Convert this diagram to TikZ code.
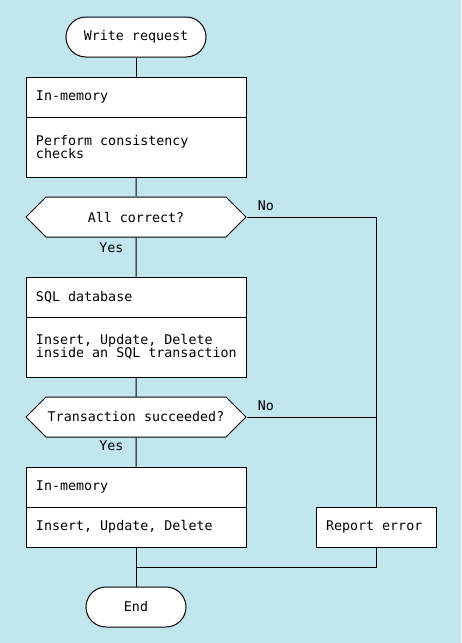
\documentclass[tikz,border=0pt]{standalone}
\usepackage{fontspec}
\setmonofont{DejaVu Sans Mono}
\usetikzlibrary{shapes.symbols}
\definecolor{skyback}{RGB}{194,230,238}
\begin{document}
\begin{tikzpicture}[x=0.75pt, y=-0.75pt, line width=0.75pt, font=\ttfamily\fontsize{10}{9.75}\selectfont,
	term/.style={draw, fill=white, rounded corners=15pt, minimum height=30pt},
	head/.style={draw, fill=white, minimum width=165pt, minimum height=30pt, text width=150pt, inner xsep=7.5pt, align=flush left},
	body/.style={head, minimum height=45pt},
	test/.style={draw, fill=white, shape=signal, signal to=west and east, signal pointer angle=90, inner xsep=0pt, minimum width=165pt, minimum height=30pt},
	yes/.style={inner sep=0pt, pos=0.275, left=9pt},
	no/.style={inner sep=0pt, pos=0, anchor=south west, xshift=8pt, yshift=4.5pt}]
	\fill[skyback] (0,0) rectangle (461,643);
	\node[term, minimum width=105pt] (start) at (136,37) {Write request};
	\node[head] (mem1) at (136,97) {In-memory};
	\node[body] (chk) at (136,147) {Perform consistency\\checks};
	\node[test] (ok1) at (136,217) {All correct?};
	\node[head] (sql) at (136,297) {SQL database};
	\node[body] (sqlops) at (136,347) {Insert, Update, Delete\\\mbox{inside an SQL transaction}};
	\node[test] (ok2) at (136,417) {Transaction succeeded?};
	\node[head] (mem2) at (136,487) {In-memory};
	\node[head] (apply) at (136,527) {Insert, Update, Delete};
	\node[head, minimum width=90pt, text width=75pt] (err) at (376,527) {Report error};
	\node[term, minimum width=75pt] (fin) at (136,607) {End};
	\coordinate (merge) at (136,567);
	\draw (start) -- (mem1);
	\draw (chk) -- (ok1);
	\draw (ok1) -- node[yes]{Yes} (sql);
	\draw (ok1.east) -| node[no]{No} (err.north);
	\draw (sqlops) -- (ok2);
	\draw (ok2) -- node[yes]{Yes} (mem2);
	\draw (ok2.east) -- node[no]{No} (ok2.east -| err.north);
	\draw (apply) -- (fin);
	\draw (err.south) |- (merge);
\end{tikzpicture}
\end{document}
